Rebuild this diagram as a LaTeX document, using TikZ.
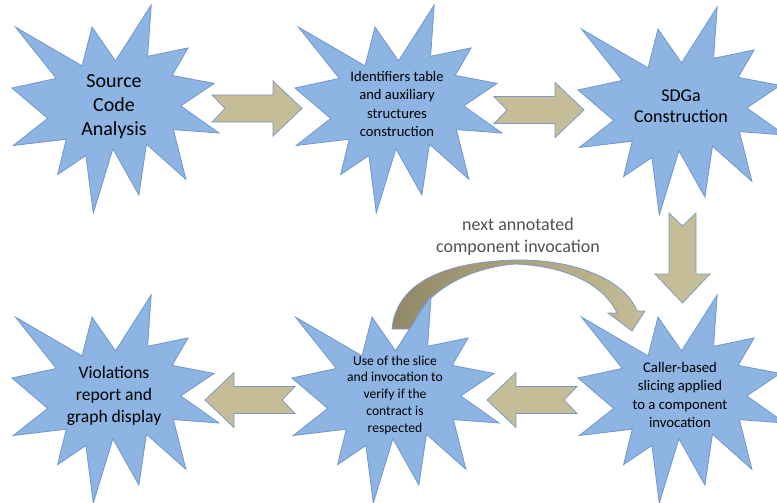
\documentclass[tikz,border=0pt]{standalone}
\usepackage{fontspec}
\setmainfont{Carlito}

\definecolor{burstfill}{HTML}{8DB4E2}
\definecolor{burstline}{HTML}{6F97CC}
\definecolor{khaki}{HTML}{C4BD97}
\definecolor{khakidark}{HTML}{918867}
\definecolor{arrowline}{HTML}{7E9AC4}
\definecolor{notegray}{HTML}{505050}

\tikzset{
  burst/.style={fill=burstfill, draw=burstline, line width=0.8pt},
  blockarr/.style={fill=khaki, draw=arrowline, line width=0.8pt},
  steptext/.style={align=center, text=black},
  pics/burststar/.style={code={
    \draw[burst] (103.5,55.9) -- (139.2,0) -- (135.6,51.3) -- (176.1,42.9)
      -- (160.1,70.4) -- (202.2,78.4) -- (168.7,100.9) -- (207,128.0)
      -- (161.4,124.6) -- (173.9,174.3) -- (134.4,139.2) -- (126.9,190.1)
      -- (100.9,143.8) -- (81.3,208) -- (73.9,150.5) -- (45.6,169.6)
      -- (54.3,134.2) -- (1.3,140.5) -- (35.7,113.4) -- (0,83.0)
      -- (44.3,73.4) -- (3.5,22.1) -- (70.1,60.9) -- (80.0,22.1) -- cycle;
  }},
  pics/blockarrow/.style={code={
    \draw[blockarr] (0,-13.5) -- (61,-13.5) -- (61,-27.5) -- (90,0)
      -- (61,27.5) -- (61,13.5) -- (0,13.5) -- (13,0) -- cycle;
  }}
}

\begin{document}
\begin{tikzpicture}[x=1pt,y=-1pt]
  \clip (0,0) rectangle (777,503);

  % curved arrow back to the slicing step
  \coordinate (loopstart) at (402,329);
  \coordinate (looptip) at (632,331);
  \draw[draw=arrowline, line width=0.8pt, left color=khakidark, right color=khaki]
    (392,329) .. controls (396,285) and (440,262) .. (515,260)
    .. controls (575,259) and (625,280) .. (637,311)
    -- (645,311) -- (looptip) -- (608,313) -- (617,313)
    .. controls (605,287) and (570,266) .. (515,264)
    .. controls (465,268) and (420,295) .. (412,329) -- cycle;

  % the six steps
  \pic at (12,5) {burststar};
  \pic at (295,5) {burststar};
  \pic at (578,7) {burststar};
  \pic at (12,295) {burststar};
  \pic at (292,295) {burststar};
  \pic at (578,295) {burststar};

  \node[steptext, font=\fontsize{20}{24}\selectfont] (src) at (114,107)
    {Source\\Code\\Analysis};
  \node[steptext, font=\fontsize{14.6}{18.3}\selectfont] (ids) at (397,104)
    {Identifiers table\\and auxiliary\\structures\\construction};
  \node[steptext, font=\fontsize{18}{20.5}\selectfont] (sdg) at (681,106)
    {SDGa\\Construction};
  \node[steptext, font=\fontsize{17.6}{21.7}\selectfont] (viol) at (114,396)
    {Violations\\report and\\graph display};
  \node[steptext, font=\fontsize{13.6}{16.7}\selectfont] (check) at (395,395)
    {Use of the slice\\and invocation to\\verify if the\\contract is\\respected};
  \node[steptext, font=\fontsize{14.7}{18.3}\selectfont] (slice) at (680,395)
    {Caller-based\\slicing applied\\to a component\\invocation};

  \node[text=notegray, align=center, font=\fontsize{18}{21.7}\selectfont] (note) at (518,237)
    {next annotated\\component invocation};

  % block arrows between the steps
  \coordinate (a1) at (212,108.5);
  \coordinate (a2) at (494,110);
  \coordinate (a3) at (682.5,213);
  \coordinate (a4) at (577,400);
  \coordinate (a5) at (295,400);
  \pic at (a1) {blockarrow};
  \pic at (a2) {blockarrow};
  \pic[rotate=-90] at (a3) {blockarrow};
  \pic[rotate=180] at (a4) {blockarrow};
  \pic[rotate=180] at (a5) {blockarrow};
\end{tikzpicture}
\end{document}
